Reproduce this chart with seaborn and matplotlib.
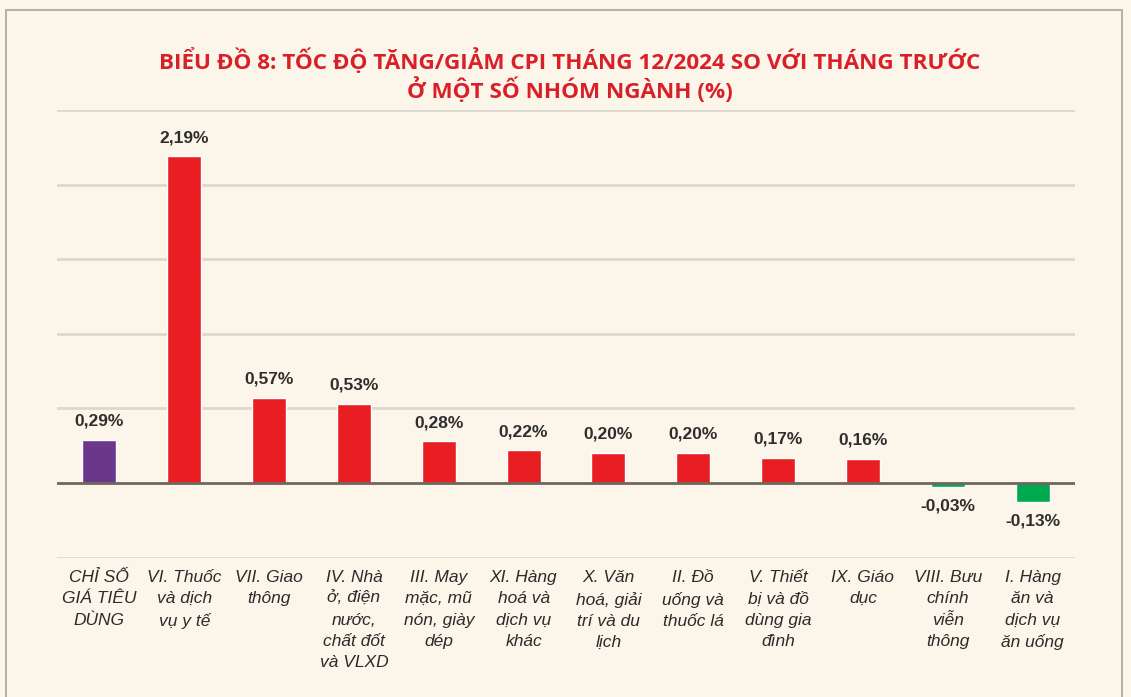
import matplotlib
matplotlib.use("Agg")
import matplotlib.pyplot as plt
import seaborn as sns
import pandas as pd
from matplotlib.patches import Rectangle

categories = [
    "CHỈ SỐ\nGIÁ TIÊU\nDÙNG",
    "VI. Thuốc\nvà dịch\nvụ y tế",
    "VII. Giao\nthông",
    "IV. Nhà\nở, điện\nnước,\nchất đốt\nvà VLXD",
    "III. May\nmặc, mũ\nnón, giày\ndép",
    "XI. Hàng\nhoá và\ndịch vụ\nkhác",
    "X. Văn\nhoá, giải\ntrí và du\nlịch",
    "II. Đồ\nuống và\nthuốc lá",
    "V. Thiết\nbị và đồ\ndùng gia\nđình",
    "IX. Giáo\ndục",
    "VIII. Bưu\nchính\nviễn\nthông",
    "I. Hàng\năn và\ndịch vụ\năn uống",
]
values = [0.29, 2.19, 0.57, 0.53, 0.28, 0.22, 0.20, 0.20, 0.17, 0.16, -0.03, -0.13]
value_labels = ["0,29%", "2,19%", "0,57%", "0,53%", "0,28%", "0,22%", "0,20%",
                "0,20%", "0,17%", "0,16%", "-0,03%", "-0,13%"]
colors = ["#6b378a"] + ["#e91e23"] * 9 + ["#00a84f"] * 2
title = "BIỂU ĐỒ 8: TỐC ĐỘ TĂNG/GIẢM CPI THÁNG 12/2024 SO VỚI THÁNG TRƯỚC\nỞ MỘT SỐ NHÓM NGÀNH (%)"

bg = "#fcf6ea"
sns.set_style("white")
plt.rcParams["font.family"] = ["Liberation Sans", "DejaVu Sans"]

fig = plt.figure(figsize=(11.31, 6.97), dpi=100, facecolor=bg)
ax = fig.add_axes([0.0504, 0.2001, 0.9001, 0.6421])
ax.set_facecolor(bg)

df = pd.DataFrame({"cat": categories, "val": values})
sns.barplot(data=df, x="cat", y="val", hue="cat", palette=colors, legend=False,
            width=0.4, saturation=1, ax=ax)

ax.set_ylim(-0.5, 2.5)
ax.set_xlim(-0.5, len(categories) - 0.5)
for y in [-0.5, 0.5, 1.0, 1.5, 2.0, 2.5]:
    ax.axhline(y, color="#dcd8cf", lw=2, zorder=0)
ax.axhline(0, color="#6e665a", lw=2, zorder=3)
for s in ax.spines.values():
    s.set_visible(False)
ax.set_yticks([])
ax.set_xlabel("")
ax.set_ylabel("")
ax.tick_params(axis="x", length=0, pad=9)
ax.set_xticks(range(len(categories)))
ax.set_xticklabels(categories, fontsize=12.5, style="italic", color="#2b2b2b",
                   linespacing=1.52)

for i, (v, lab) in enumerate(zip(values, value_labels)):
    if v >= 0:
        ax.annotate(lab, (i, v), xytext=(0, 8), textcoords="offset points",
                    ha="center", va="bottom", fontsize=12.5, fontweight="bold",
                    color="#2e2e2e")
    else:
        ax.annotate(lab, (i, v), xytext=(0, -8), textcoords="offset points",
                    ha="center", va="top", fontsize=12.5, fontweight="bold",
                    color="#2e2e2e")

fig.text(0.504, 0.891, title, ha="center", va="center", fontsize=16.2,
         fontweight="bold", color="#d7202a", linespacing=1.15,
         family=["Open Sans", "DejaVu Sans"])

fig.patches.append(Rectangle((6 / 1131, -0.05), 1116 / 1131, 1.05 - 10 / 697,
                             transform=fig.transFigure, fill=False,
                             edgecolor="#b8b2a6", lw=1.5))

fig.savefig("out.png", dpi=100, facecolor=bg)
